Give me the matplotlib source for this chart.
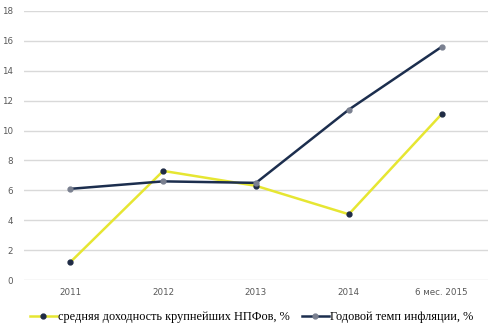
import matplotlib
matplotlib.use("Agg")
import matplotlib.pyplot as plt

# data
categories = ["2011", "2012", "2013", "2014", "6 мес. 2015"]
npf_yield = [1.2, 7.3, 6.3, 4.4, 11.1]
inflation = [6.1, 6.6, 6.5, 11.4, 15.6]
yticks = [0, 2, 4, 6, 8, 10, 12, 14, 16, 18]

fig = plt.figure(figsize=(4.99, 3.31), dpi=100)
ax = fig.add_axes([24 / 499, 51 / 331, 464 / 499, 269 / 331])

x = list(range(len(categories)))
ax.plot(x, npf_yield, color="#E6E632", lw=1.8, marker="o", ms=3.5,
        mfc="#1F2B45", mec="#1F2B45", label="средняя доходность крупнейших НПФов, %", zorder=3)
ax.plot(x, inflation, color="#1C2E4E", lw=1.8, marker="o", ms=3.5,
        mfc="#7A8090", mec="#7A8090", label="Годовой темп инфляции, %", zorder=4)

ax.set_xlim(-0.5, len(categories) - 0.5)
ax.set_ylim(0, 18)
ax.set_yticks(yticks)
ax.set_xticks(x)
ax.set_xticklabels(categories)
ax.grid(axis="y", color="#D9D9D9", lw=1)
ax.set_axisbelow(True)
for s in ax.spines.values():
    s.set_visible(False)
ax.tick_params(length=0, labelsize=6.3, colors="#595959", pad=6)
ax.tick_params(axis="y", pad=8)

leg = ax.legend(loc="upper center", bbox_to_anchor=(0.49, -0.075), ncol=2, frameon=False,
                prop={"family": "Liberation Serif", "size": 8.8}, handlelength=2.2,
                handletextpad=0.1, columnspacing=1.0)

fig.savefig("out.png", dpi=100)
